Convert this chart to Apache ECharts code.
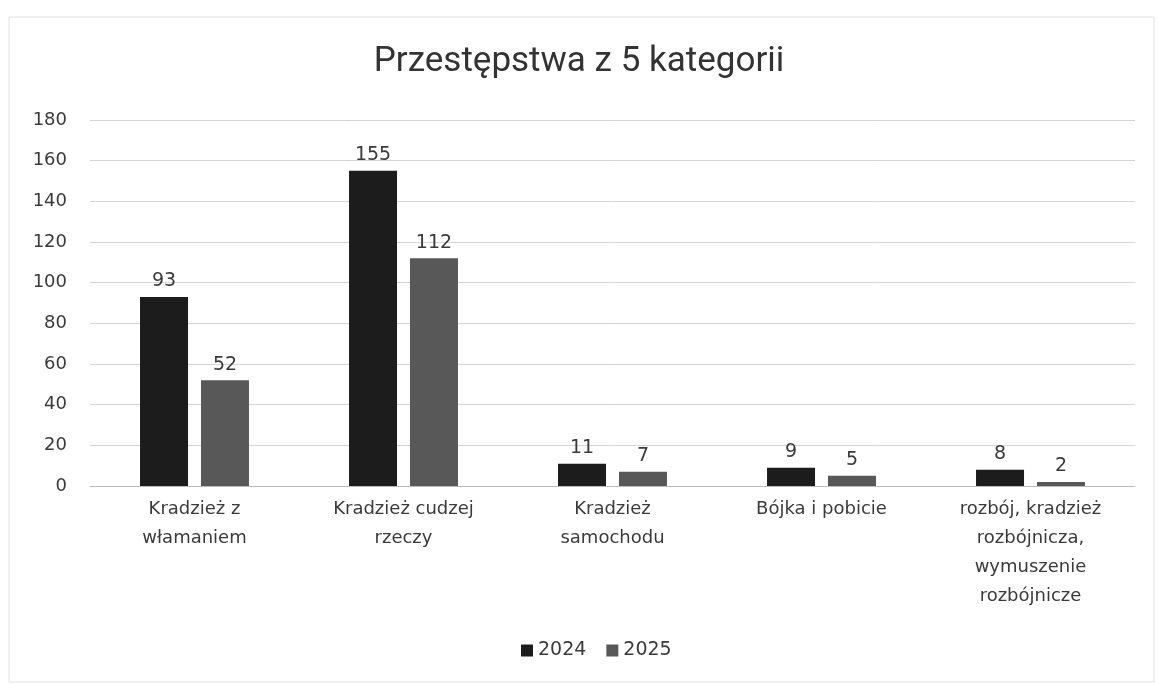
<!DOCTYPE html>
<html>
<head>
<meta charset="utf-8">
<script src="https://cdn.jsdelivr.net/npm/echarts@6/dist/echarts.min.js"></script>
<style>
html,body{margin:0;padding:0;background:#fff;}
#chart{width:1158px;height:685px;}
</style>
</head>
<body>
<div id="chart"></div>
<script>
// dane z wykresu
var kategorie = ['Kradzież z\nwłamaniem', 'Kradzież cudzej\nrzeczy', 'Kradzież\nsamochodu', 'Bójka i pobicie', 'rozbój, kradzież\nrozbójnicza,\nwymuszenie\nrozbójnicze'];
var dane2024 = [93, 155, 11, 9, 8];
var dane2025 = [52, 112, 7, 5, 2];
var lata = ['2024', '2025'];

var chart = echarts.init(document.getElementById('chart'));

var font = 'DejaVu Sans, sans-serif';

option = {
    backgroundColor: '#fff',
    title: {
        text: 'Przestępstwa z 5 kategorii',
        left: 'center',
        top: 40,
        textStyle: {
            fontFamily: 'Roboto, sans-serif',
            fontSize: 35,
            fontWeight: 'normal',
            color: '#333'
        }
    },
    graphic: [{
        type: 'rect',
        shape: {x: 9, y: 17, width: 1145, height: 665},
        style: {fill: 'none', stroke: '#e2e2e2', lineWidth: 1},
        silent: true
    }],
    legend: {
        data: lata,
        bottom: 20,
        left: 516,
        itemWidth: 12,
        itemHeight: 12,
        itemGap: 20,
        icon: 'rect',
        textStyle: {fontFamily: font, fontSize: 19, color: '#3a3a3a'}
    },
    grid: {
        left: 90,
        right: 23,
        top: 120,
        bottom: 199
    },
    xAxis: {
        type: 'category',
        data: kategorie,
        axisTick: {show: false},
        axisLine: {lineStyle: {color: '#bbb'}},
        axisLabel: {
            fontFamily: font,
            fontSize: 18,
            color: '#3a3a3a',
            lineHeight: 29,
            margin: 9,
            interval: 0
        }
    },
    yAxis: {
        type: 'value',
        min: 0,
        max: 180,
        interval: 20,
        axisLine: {show: false},
        axisTick: {show: false},
        splitLine: {lineStyle: {color: '#d4d4d4'}},
        axisLabel: {
            fontFamily: font,
            fontSize: 18,
            color: '#3a3a3a',
            margin: 23
        }
    },
    series: [{
        name: '2024',
        type: 'bar',
        data: dane2024,
        barWidth: 48,
        barGap: '27%',
        itemStyle: {color: '#1c1c1c'},
        label: {show: true, position: 'top', distance: 6, fontFamily: font, fontSize: 19, color: '#3a3a3a'}
    }, {
        name: '2025',
        type: 'bar',
        data: dane2025,
        barWidth: 48,
        itemStyle: {color: '#585858'},
        label: {show: true, position: 'top', distance: 6, fontFamily: font, fontSize: 19, color: '#3a3a3a'}
    }]
};

chart.setOption(option);
</script>
</body>
</html>
